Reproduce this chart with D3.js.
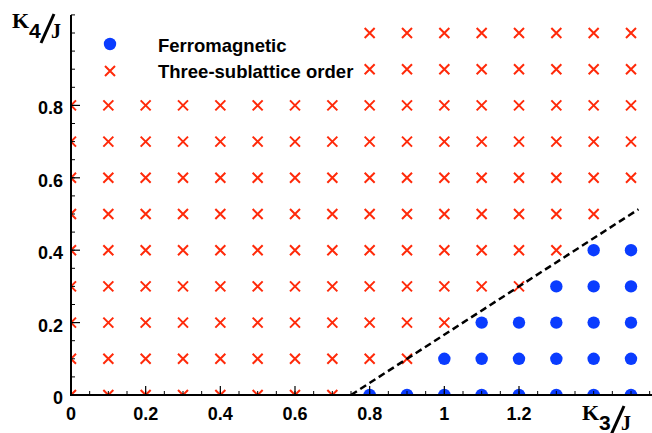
<!DOCTYPE html>
<html><head><meta charset="utf-8">
<script src="https://cdn.jsdelivr.net/npm/d3@7"></script>
<style>body{margin:0;background:#fff}svg{display:block}</style>
</head><body>
<svg id="c" width="652" height="433"></svg>
<script>
// Data
const xTickValues = [0, 0.2, 0.4, 0.6, 0.8, 1, 1.2];
const xTickLabels = ["0", "0.2", "0.4", "0.6", "0.8", "1", "1.2"];
const yTickValues = [0, 0.2, 0.4, 0.6, 0.8];
const yTickLabels = ["0", "0.2", "0.4", "0.6", "0.8"];
// Ferromagnetic points [K3/J, K4/J]
const ferroX = [0.8,0.9,1.0,1.1,1.2,1.3,1.4,1.5, 1.0,1.1,1.2,1.3,1.4,1.5, 1.1,1.2,1.3,1.4,1.5, 1.3,1.4,1.5, 1.4,1.5];
const ferroY = [0,0,0,0,0,0,0,0, 0.1,0.1,0.1,0.1,0.1,0.1, 0.2,0.2,0.2,0.2,0.2, 0.3,0.3,0.3, 0.4,0.4];
// Three-sublattice points, per row: K4/J value and list of K3/J values
const triRowsY = [0, 0.1, 0.2, 0.3, 0.4, 0.5, 0.6, 0.7, 0.8, 0.9, 1.0];
const triRowsX = [
  [0,0.1,0.2,0.3,0.4,0.5,0.6,0.7],
  [0,0.1,0.2,0.3,0.4,0.5,0.6,0.7,0.8,0.9],
  [0,0.1,0.2,0.3,0.4,0.5,0.6,0.7,0.8,0.9,1.0],
  [0,0.1,0.2,0.3,0.4,0.5,0.6,0.7,0.8,0.9,1.0,1.1,1.2],
  [0,0.1,0.2,0.3,0.4,0.5,0.6,0.7,0.8,0.9,1.0,1.1,1.2,1.3],
  [0,0.1,0.2,0.3,0.4,0.5,0.6,0.7,0.8,0.9,1.0,1.1,1.2,1.3,1.4],
  [0,0.1,0.2,0.3,0.4,0.5,0.6,0.7,0.8,0.9,1.0,1.1,1.2,1.3,1.4,1.5],
  [0,0.1,0.2,0.3,0.4,0.5,0.6,0.7,0.8,0.9,1.0,1.1,1.2,1.3,1.4,1.5],
  [0,0.1,0.2,0.3,0.4,0.5,0.6,0.7,0.8,0.9,1.0,1.1,1.2,1.3,1.4,1.5],
  [0.8,0.9,1.0,1.1,1.2,1.3,1.4,1.5],
  [0.8,0.9,1.0,1.1,1.2,1.3,1.4,1.5]
];
// Phase boundary (dashed line)
const boundaryX = [0.75, 1.52];
const boundaryY = [0, 0.513];
const legendLabels = ["Ferromagnetic", "Three-sublattice order"];

const RED = "#ff2a0a", BLUE = "#0a3cff";
const svg = d3.select("#c");
const x = d3.scaleLinear().domain([0, 1.5]).range([71, 631]);
const y = d3.scaleLinear().domain([0, 1.0]).range([395, 33]);

svg.append("defs").append("clipPath").attr("id","clip")
  .append("rect").attr("x", x(0)).attr("y", 0).attr("width", 652 - x(0)).attr("height", y(0));

const plot = svg.append("g").attr("clip-path","url(#clip)");

// crosses
const tri = [];
triRowsY.forEach((yy, i) => triRowsX[i].forEach(xx => tri.push([xx, yy])));
const cs = 5;
plot.selectAll("path.cross").data(tri).join("path").attr("class","cross")
  .attr("d", d => { const cx = x(d[0]), cy = y(d[1]);
    return `M${cx-cs},${cy-cs}L${cx+cs},${cy+cs}M${cx-cs},${cy+cs}L${cx+cs},${cy-cs}`; })
  .attr("stroke", RED).attr("stroke-width", 2).attr("fill","none");

// circles
plot.selectAll("circle.ferro").data(ferroX.map((v,i)=>[v, ferroY[i]])).join("circle")
  .attr("class","ferro").attr("cx", d=>x(d[0])).attr("cy", d=>y(d[1])).attr("r", 6.2).attr("fill", BLUE);

// boundary
plot.append("path").datum(boundaryX.map((v,i)=>[v, boundaryY[i]]))
  .attr("d", d3.line().x(d=>x(d[0])).y(d=>y(d[1])))
  .attr("stroke","#000").attr("stroke-width",2.5).attr("stroke-dasharray","7,4").attr("fill","none");

// axes
const font = "Liberation Sans, Arial, Helvetica, sans-serif";
const ax = svg.append("g");
ax.append("line").attr("x1", x(0)).attr("x2", x(0)).attr("y1", 15).attr("y2", y(0)+1)
  .attr("stroke","#000").attr("stroke-width",2);
ax.append("line").attr("x1", x(0)).attr("x2", 652).attr("y1", y(0)).attr("y2", y(0))
  .attr("stroke","#000").attr("stroke-width",2);

const minorX = d3.range(0, 1.56, 0.05);
ax.selectAll("line.mx").data(minorX).join("line").attr("class","mx")
  .attr("x1", d=>x(d)).attr("x2", d=>x(d)).attr("y1", y(0)).attr("y2", y(0)-4)
  .attr("stroke","#000").attr("stroke-width",1);
ax.selectAll("line.Mx").data(xTickValues).join("line").attr("class","Mx")
  .attr("x1", d=>x(d)).attr("x2", d=>x(d)).attr("y1", y(0)).attr("y2", y(0)-9)
  .attr("stroke","#000").attr("stroke-width",1.2);
const minorY = d3.range(0, 1.06, 0.05);
ax.selectAll("line.my").data(minorY).join("line").attr("class","my")
  .attr("y1", d=>y(d)).attr("y2", d=>y(d)).attr("x1", x(0)).attr("x2", x(0)+4)
  .attr("stroke","#000").attr("stroke-width",1);
ax.selectAll("line.My").data(yTickValues).join("line").attr("class","My")
  .attr("y1", d=>y(d)).attr("y2", d=>y(d)).attr("x1", x(0)).attr("x2", x(0)+9)
  .attr("stroke","#000").attr("stroke-width",1.2);

ax.selectAll("text.xl").data(xTickValues).join("text").attr("class","xl")
  .attr("x", d=>x(d)).attr("y", 420).attr("text-anchor","middle")
  .attr("font-family", font).attr("font-weight","bold").attr("font-size",18)
  .text((d,i)=>xTickLabels[i]);
ax.selectAll("text.yl").data(yTickValues).join("text").attr("class","yl")
  .attr("x", 63).attr("y", d=>y(d)+9).attr("text-anchor","end")
  .attr("font-family", font).attr("font-weight","bold").attr("font-size",18)
  .text((d,i)=>yTickLabels[i]);

// axis titles
function title(g, ox, oy, sub) {
  g.append("text").attr("x", ox).attr("y", oy).attr("font-family","Liberation Serif, Times New Roman, serif")
    .attr("font-weight","bold").attr("font-size",22).text("K");
  g.append("text").attr("x", ox+17).attr("y", oy+10).attr("font-family", font)
    .attr("font-weight","bold").attr("font-size",21).text(sub);
  g.append("line").attr("x1", ox+29).attr("y1", oy+15).attr("x2", ox+42).attr("y2", oy-14)
    .attr("stroke","#000").attr("stroke-width",3);
  g.append("text").attr("x", ox+39).attr("y", oy+10).attr("font-family","Liberation Serif, Times New Roman, serif")
    .attr("font-weight","bold").attr("font-size",20).text("J");
}
title(svg.append("g"), 12, 28, "4");
title(svg.append("g"), 582, 420, "3");

// legend
const lg = svg.append("g");
lg.append("circle").attr("cx",110).attr("cy",44).attr("r",6.2).attr("fill",BLUE);
lg.append("path").attr("d",`M${110-cs},${71-cs}L${110+cs},${71+cs}M${110-cs},${71+cs}L${110+cs},${71-cs}`)
  .attr("stroke",RED).attr("stroke-width",2);
lg.selectAll("text").data(legendLabels).join("text").attr("x",158).attr("y",(d,i)=>52+i*26)
  .attr("font-family", font).attr("font-weight","bold").attr("font-size",18.5).text(d=>d);
</script>
</body></html>
